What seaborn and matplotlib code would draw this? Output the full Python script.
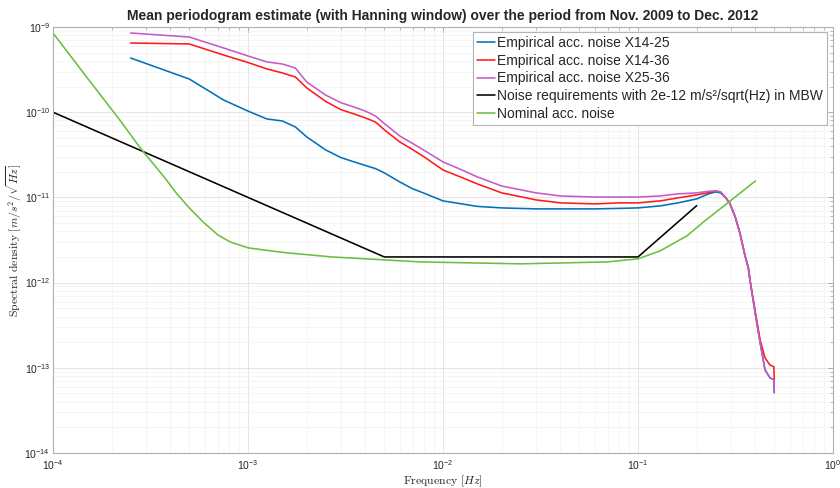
import numpy as np
import pandas as pd
import matplotlib
matplotlib.use("Agg")
import matplotlib.pyplot as plt
import seaborn as sns
from matplotlib.ticker import LogLocator, NullFormatter

# ---------------- data ----------------
freq_emp = [2.5e-4, 5e-4, 7.5e-4, 1e-3, 1.25e-3, 1.5e-3, 1.75e-3, 2e-3, 2.5e-3, 3e-3,
            3.5e-3, 4e-3, 4.5e-3, 5e-3, 6e-3, 7e-3, 8e-3, 1e-2, 1.25e-2, 1.5e-2,
            2e-2, 3e-2, 4e-2, 6e-2, 8e-2, 0.1, 0.13, 0.16, 0.2, 0.23,
            0.25, 0.265, 0.28, 0.295, 0.315, 0.333, 0.354, 0.368, 0.375, 0.398,
            0.423, 0.448, 0.475, 0.4975, 0.5]

noise_x14_25 = [4.33e-10, 2.45e-10, 1.39e-10, 1.03e-10, 8.33e-11, 7.89e-11, 6.71e-11, 5.13e-11, 3.61e-11, 2.93e-11,
                2.61e-11, 2.37e-11, 2.18e-11, 1.94e-11, 1.52e-11, 1.26e-11, 1.12e-11, 9.10e-12, 8.39e-12, 7.84e-12,
                7.53e-12, 7.33e-12, 7.33e-12, 7.33e-12, 7.43e-12, 7.53e-12, 7.95e-12, 8.62e-12, 9.60e-12, 1.10e-11,
                1.16e-11, 1.13e-11, 1.01e-11, 8.62e-12, 5.91e-12, 3.83e-12, 2.06e-12, 1.49e-12, 1.08e-12, 4.54e-13,
                1.96e-13, 9.47e-14, 7.63e-14, 7.23e-14, 5.09e-14]

noise_x14_36 = [6.49e-10, 6.32e-10, 4.69e-10, 3.83e-10, 3.22e-10, 2.89e-10, 2.59e-10, 1.93e-10, 1.34e-10, 1.07e-10,
                9.54e-11, 8.56e-11, 7.68e-11, 6.22e-11, 4.48e-11, 3.63e-11, 2.99e-11, 2.10e-11, 1.71e-11, 1.44e-11,
                1.13e-11, 9.35e-12, 8.62e-12, 8.39e-12, 8.62e-12, 8.62e-12, 9.10e-12, 9.86e-12, 1.07e-11, 1.14e-11,
                1.19e-11, 1.16e-11, 1.01e-11, 8.62e-12, 5.91e-12, 3.83e-12, 2.06e-12, 1.49e-12, 1.08e-12, 4.79e-13,
                2.13e-13, 1.31e-13, 1.08e-13, 1.03e-13, 7.23e-14]

noise_x25_36 = [8.50e-10, 7.63e-10, 5.67e-10, 4.57e-10, 3.89e-10, 3.68e-10, 3.30e-10, 2.26e-10, 1.59e-10, 1.29e-10,
                1.15e-10, 1.03e-10, 9.04e-11, 7.36e-11, 5.26e-11, 4.28e-11, 3.57e-11, 2.61e-11, 2.10e-11, 1.74e-11,
                1.36e-11, 1.13e-11, 1.04e-11, 1.01e-11, 1.01e-11, 1.01e-11, 1.04e-11, 1.10e-11, 1.13e-11, 1.18e-11,
                1.19e-11, 1.16e-11, 1.01e-11, 8.62e-12, 5.91e-12, 3.83e-12, 2.06e-12, 1.49e-12, 1.08e-12, 4.54e-13,
                1.96e-13, 9.47e-14, 7.63e-14, 7.23e-14, 5.09e-14]

freq_req = [1e-4, 5e-3, 0.1, 0.2]
noise_req = [1e-10, 2e-12, 2e-12, 8e-12]

freq_nom = [1e-4, 1.5e-4, 2.2e-4, 2.8e-4, 3.75e-4, 4.32e-4, 5e-4, 5.88e-4, 7e-4, 8.08e-4,
            1e-3, 1.3e-3, 1.6e-3, 2.7e-3, 7.6e-3, 2.5e-2, 7e-2, 0.1, 0.13, 0.178,
            0.22, 0.26, 0.32, 0.4]
noise_nom = [8.5e-10, 2.52e-10, 8.11e-11, 3.81e-11, 1.69e-11, 1.10e-11, 7.53e-12, 5.16e-12, 3.63e-12, 3.01e-12,
             2.56e-12, 2.36e-12, 2.23e-12, 2.00e-12, 1.75e-12, 1.66e-12, 1.75e-12, 1.90e-12, 2.36e-12, 3.53e-12,
             5.30e-12, 7.14e-12, 1.04e-11, 1.56e-11]

labels = ["Empirical acc. noise X14-25",
          "Empirical acc. noise X14-36",
          "Empirical acc. noise X25-36",
          "Noise requirements with 2e-12 m/s\u00b2/sqrt(Hz) in MBW",
          "Nominal acc. noise"]
colors = ["#0072BD", "#FF1A1A", "#C55BC5", "#000000", "#6ABF3F"]

title = "Mean periodogram estimate (with Hanning window) over the period from Nov. 2009 to Dec. 2012"

# ---------------- style ----------------
sns.set_style("white")
plt.rcParams.update({
    "font.family": ["Liberation Sans", "DejaVu Sans"],
    "mathtext.fontset": "custom",
    "mathtext.rm": "Liberation Sans",
    "mathtext.it": "Liberation Sans:italic",
    "mathtext.bf": "Liberation Sans:bold",
})

fig = plt.figure(figsize=(8.4, 4.88), dpi=100)
ax = fig.add_axes([53 / 840, 1 - 453 / 488, 780 / 840, 426 / 488])

series = [
    (freq_emp, noise_x14_25),
    (freq_emp, noise_x14_36),
    (freq_emp, noise_x25_36),
    (freq_req, noise_req),
    (freq_nom, noise_nom),
]
for (fx, vy), lab, col in zip(series, labels, colors):
    df = pd.DataFrame({"f": fx, "v": vy})
    sns.lineplot(data=df, x="f", y="v", ax=ax, color=col, lw=1.15,
                 label=lab, estimator=None, sort=False)

ax.set_xscale("log")
ax.set_yscale("log")
ax.set_xlim(1e-4, 1)
ax.set_ylim(1e-14, 1e-9)

ax.xaxis.set_major_locator(LogLocator(base=10, numticks=12))
ax.yaxis.set_major_locator(LogLocator(base=10, numticks=12))
ax.xaxis.set_minor_locator(LogLocator(base=10, subs=np.arange(2, 10), numticks=12))
ax.yaxis.set_minor_locator(LogLocator(base=10, subs=np.arange(2, 10), numticks=12))
ax.xaxis.set_minor_formatter(NullFormatter())
ax.yaxis.set_minor_formatter(NullFormatter())

ax.grid(which="major", color="#e0e0e0", lw=0.6)
ax.grid(which="minor", color="#f1f1f1", lw=0.5)
ax.set_axisbelow(True)

for s in ax.spines.values():
    s.set_visible(True)
    s.set_color("#b0b0b0")
    s.set_linewidth(0.8)

ax.tick_params(which="both", direction="in", top=True, right=True,
               color="#a0a0a0", labelcolor="#262626", labelsize=7.5)
ax.tick_params(which="major", length=3.5, width=0.6)
ax.tick_params(which="minor", length=2.5, width=0.5)
ax.tick_params(axis="x", which="major", pad=4)
ax.tick_params(axis="y", which="major", pad=2)

ax.set_title(title, fontsize=10, fontweight="bold", pad=5)
ax.set_xlabel(r"$\mathrm{Frequency}\ [Hz]$", fontsize=8.5, math_fontfamily="cm",
              color="#262626", labelpad=1)
ax.set_ylabel(r"$\mathrm{Spectral\ density}\ [m/s^2/\sqrt{Hz}]$", fontsize=8.5,
              math_fontfamily="cm", color="#262626", labelpad=0)

leg = ax.legend(loc="upper right", bbox_to_anchor=(0.9923, 0.9883), borderaxespad=0,
                fontsize=10, frameon=True, fancybox=False, edgecolor="#b4b4b4",
                framealpha=1, handlelength=1.3, handletextpad=0.15,
                labelspacing=0.26, borderpad=0.3)
leg.get_frame().set_linewidth(0.8)

fig.savefig("out.png", dpi=100)
